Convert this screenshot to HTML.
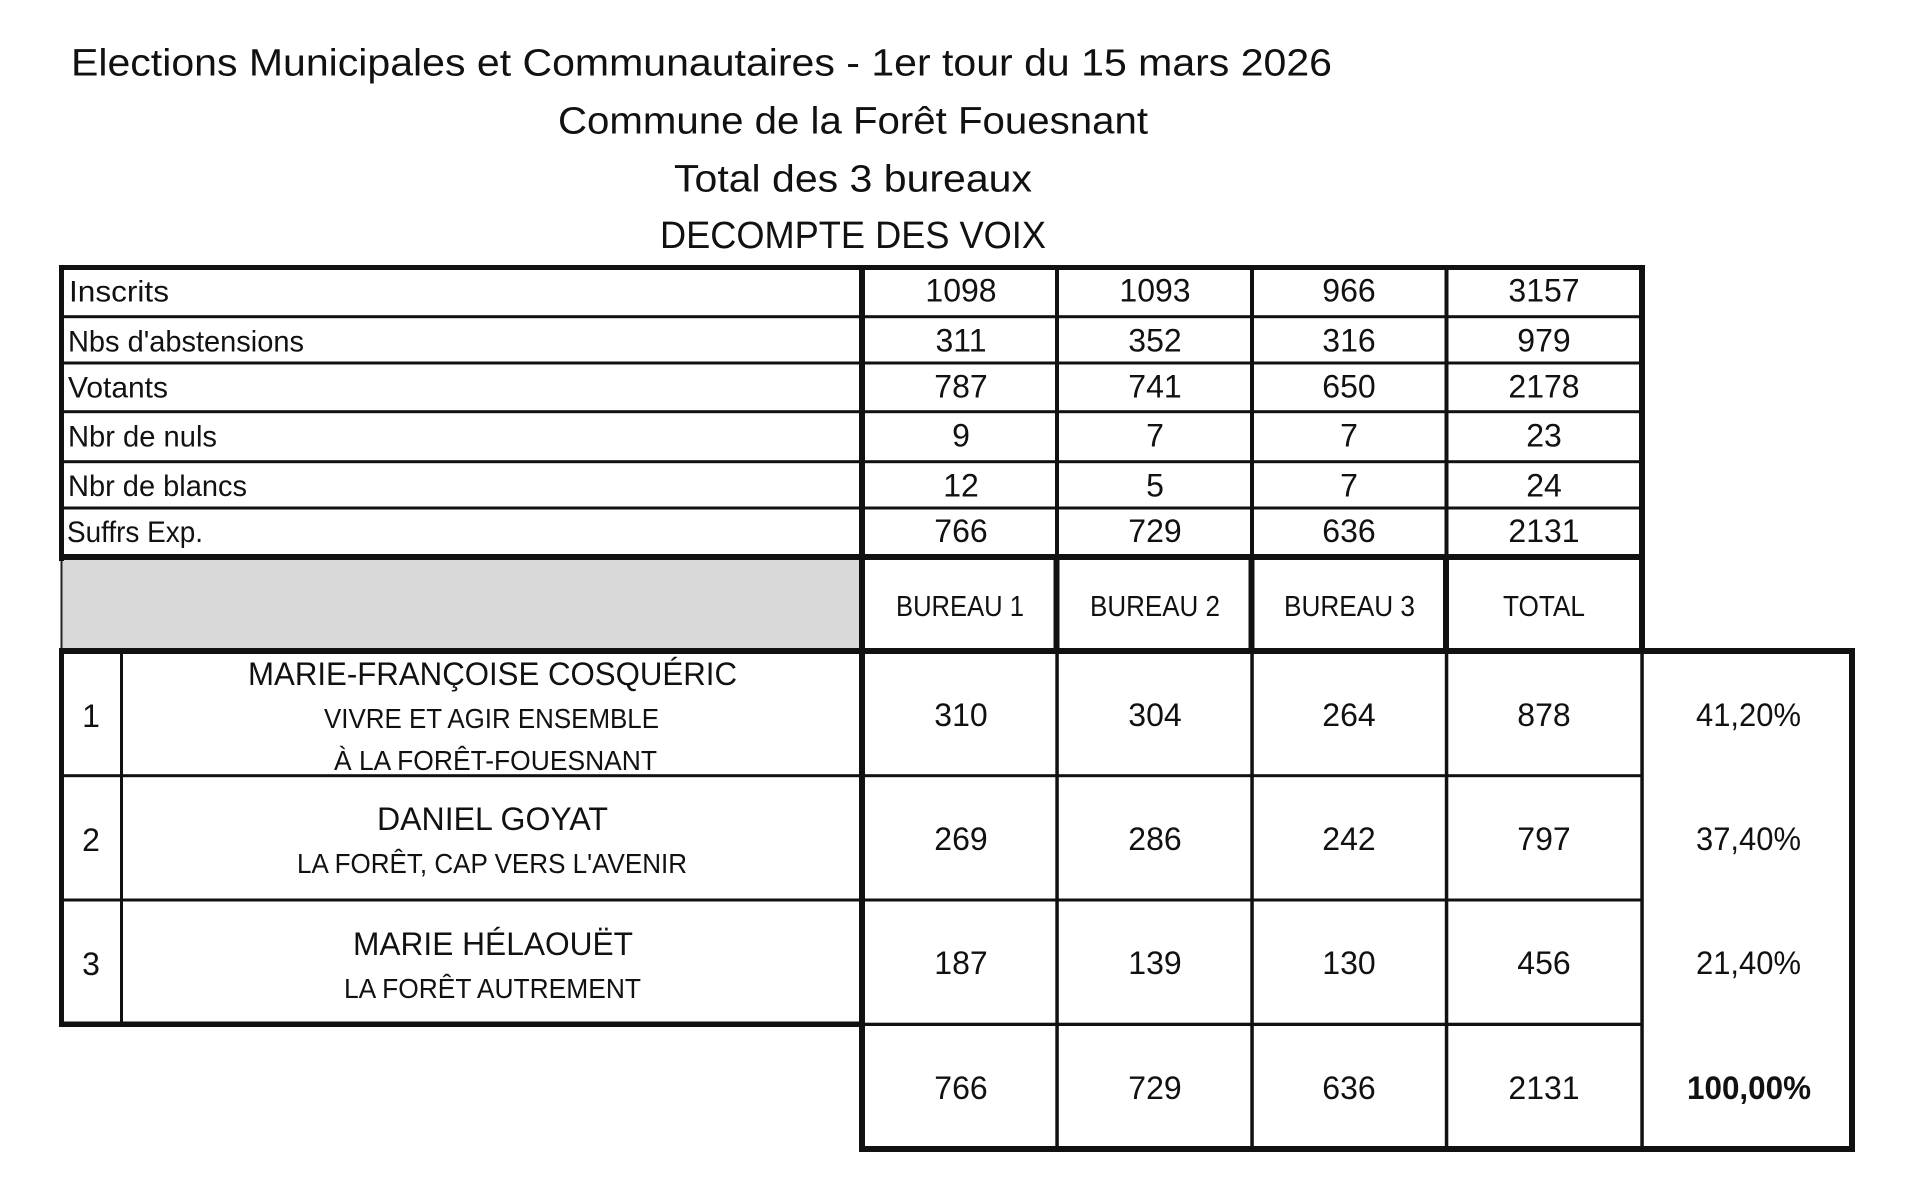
<!DOCTYPE html>
<html>
<head>
<meta charset="utf-8">
<style>
html,body{margin:0;padding:0;background:#fff;}
body{width:1920px;height:1204px;overflow:hidden;}
svg{display:block;}
text{font-family:"Liberation Sans",sans-serif;fill:#111;}
</style>
</head>
<body>
<svg width="1920" height="1204" viewBox="0 0 1920 1204" xmlns="http://www.w3.org/2000/svg">
<rect x="0" y="0" width="1920" height="1204" fill="#fff"/>

<!-- Titles -->
<text x="71" y="75.5" font-size="38" textLength="1261" lengthAdjust="spacingAndGlyphs">Elections Municipales et Communautaires - 1er tour du 15 mars 2026</text>
<text x="558" y="133.3" font-size="38" textLength="590" lengthAdjust="spacingAndGlyphs">Commune de la Forêt Fouesnant</text>
<text x="674" y="191.7" font-size="38" textLength="358" lengthAdjust="spacingAndGlyphs">Total des 3 bureaux</text>
<text x="660" y="248" font-size="38" textLength="386" lengthAdjust="spacingAndGlyphs">DECOMPTE DES VOIX</text>

<!-- Header grey area -->
<rect x="62" y="560" width="797" height="89" fill="#d9d9d9"/>
<rect x="60.5" y="558" width="2" height="92" fill="#222"/>

<g fill="#111">
<!-- Table 1 outer -->
<rect x="59" y="265" width="1586" height="5"/>
<rect x="59" y="265" width="5" height="296"/>
<rect x="1639" y="265" width="6" height="389"/>
<rect x="59" y="554" width="1586" height="6"/>
<!-- Table 1 inner horizontals -->
<rect x="62" y="315.2" width="1580" height="3"/>
<rect x="62" y="361.5" width="1580" height="3"/>
<rect x="62" y="410.2" width="1580" height="3"/>
<rect x="62" y="460.2" width="1580" height="3"/>
<rect x="62" y="506.5" width="1580" height="3"/>
<!-- Vertical label divider -->
<rect x="859" y="265" width="6" height="887"/>
<!-- Table 1 column lines -->
<rect x="1055" y="265" width="4" height="292"/>
<rect x="1250" y="265" width="4" height="292"/>
<rect x="1444.5" y="265" width="4" height="292"/>
<!-- Header row verticals (thicker) -->
<rect x="1053.5" y="556" width="6" height="96"/>
<rect x="1248.5" y="556" width="6" height="96"/>
<rect x="1443" y="556" width="6" height="96"/>

<!-- Candidate table -->
<rect x="59" y="648" width="1796" height="6"/>
<rect x="59" y="648" width="5" height="379"/>
<rect x="120" y="652" width="3" height="372"/>
<rect x="62" y="774.2" width="1580" height="3"/>
<rect x="62" y="898.5" width="1580" height="3"/>
<rect x="59" y="1021.5" width="803" height="5.5"/>
<rect x="862" y="1022.7" width="780" height="3.3"/>
<rect x="859" y="1146" width="996" height="6"/>
<rect x="1849" y="648" width="6" height="504"/>
<rect x="1055.3" y="652" width="3.5" height="496"/>
<rect x="1250.3" y="652" width="3.5" height="496"/>
<rect x="1444.8" y="652" width="3.5" height="496"/>
<rect x="1640.3" y="652" width="3.5" height="496"/>
</g>

<!-- Table 1 labels -->
<text x="69" y="301.7" font-size="30" textLength="100" lengthAdjust="spacingAndGlyphs">Inscrits</text>
<text x="68" y="351.5" font-size="30" textLength="236" lengthAdjust="spacingAndGlyphs">Nbs d'abstensions</text>
<text x="68" y="397.7" font-size="30" textLength="100" lengthAdjust="spacingAndGlyphs">Votants</text>
<text x="68" y="446.7" font-size="30" textLength="149" lengthAdjust="spacingAndGlyphs">Nbr de nuls</text>
<text x="68" y="496" font-size="30" textLength="179" lengthAdjust="spacingAndGlyphs">Nbr de blancs</text>
<text x="67" y="542" font-size="30" textLength="136" lengthAdjust="spacingAndGlyphs">Suffrs Exp.</text>

<!-- Table 1 numbers -->
<g font-size="32" text-anchor="middle">
<text x="961" y="301.7">1098</text><text x="1155" y="301.7">1093</text><text x="1349" y="301.7">966</text><text x="1544" y="301.7">3157</text>
<text x="961" y="351.5">311</text><text x="1155" y="351.5">352</text><text x="1349" y="351.5">316</text><text x="1544" y="351.5">979</text>
<text x="961" y="397.7">787</text><text x="1155" y="397.7">741</text><text x="1349" y="397.7">650</text><text x="1544" y="397.7">2178</text>
<text x="961" y="446.7">9</text><text x="1155" y="446.7">7</text><text x="1349" y="446.7">7</text><text x="1544" y="446.7">23</text>
<text x="961" y="496.5">12</text><text x="1155" y="496.5">5</text><text x="1349" y="496.5">7</text><text x="1544" y="496.5">24</text>
<text x="961" y="542">766</text><text x="1155" y="542">729</text><text x="1349" y="542">636</text><text x="1544" y="542">2131</text>
</g>

<!-- Header labels -->
<text x="896" y="616" font-size="29" textLength="128" lengthAdjust="spacingAndGlyphs">BUREAU 1</text>
<text x="1090" y="616" font-size="29" textLength="130" lengthAdjust="spacingAndGlyphs">BUREAU 2</text>
<text x="1284" y="616" font-size="29" textLength="131" lengthAdjust="spacingAndGlyphs">BUREAU 3</text>
<text x="1503" y="616" font-size="29" textLength="82" lengthAdjust="spacingAndGlyphs">TOTAL</text>

<!-- Candidates -->
<g font-size="32" text-anchor="middle">
<text x="91" y="727">1</text>
<text x="91" y="851">2</text>
<text x="91" y="975">3</text>
</g>
<text x="248" y="685" font-size="32" textLength="489" lengthAdjust="spacingAndGlyphs">MARIE-FRANÇOISE COSQUÉRIC</text>
<text x="324" y="728" font-size="28" textLength="335" lengthAdjust="spacingAndGlyphs">VIVRE ET AGIR ENSEMBLE</text>
<text x="334" y="770" font-size="28" textLength="323" lengthAdjust="spacingAndGlyphs">À LA FORÊT-FOUESNANT</text>
<text x="377" y="830" font-size="32" textLength="231" lengthAdjust="spacingAndGlyphs">DANIEL GOYAT</text>
<text x="297" y="873" font-size="28" textLength="390" lengthAdjust="spacingAndGlyphs">LA FORÊT, CAP VERS L'AVENIR</text>
<text x="353" y="955" font-size="32" textLength="280" lengthAdjust="spacingAndGlyphs">MARIE HÉLAOUËT</text>
<text x="344" y="998" font-size="28" textLength="297" lengthAdjust="spacingAndGlyphs">LA FORÊT AUTREMENT</text>

<!-- Candidate numbers -->
<g font-size="32" text-anchor="middle">
<text x="961" y="726">310</text><text x="1155" y="726">304</text><text x="1349" y="726">264</text><text x="1544" y="726">878</text>
<text x="961" y="850">269</text><text x="1155" y="850">286</text><text x="1349" y="850">242</text><text x="1544" y="850">797</text>
<text x="961" y="974">187</text><text x="1155" y="974">139</text><text x="1349" y="974">130</text><text x="1544" y="974">456</text>
<text x="961" y="1099">766</text><text x="1155" y="1099">729</text><text x="1349" y="1099">636</text><text x="1544" y="1099">2131</text>
</g>

<!-- Percentages -->
<text x="1696" y="726" font-size="32" textLength="105" lengthAdjust="spacingAndGlyphs">41,20%</text>
<text x="1696" y="850" font-size="32" textLength="105" lengthAdjust="spacingAndGlyphs">37,40%</text>
<text x="1696" y="974" font-size="32" textLength="105" lengthAdjust="spacingAndGlyphs">21,40%</text>
<text x="1687" y="1099" font-size="32" font-weight="bold" textLength="124" lengthAdjust="spacingAndGlyphs">100,00%</text>
</svg>
</body>
</html>
